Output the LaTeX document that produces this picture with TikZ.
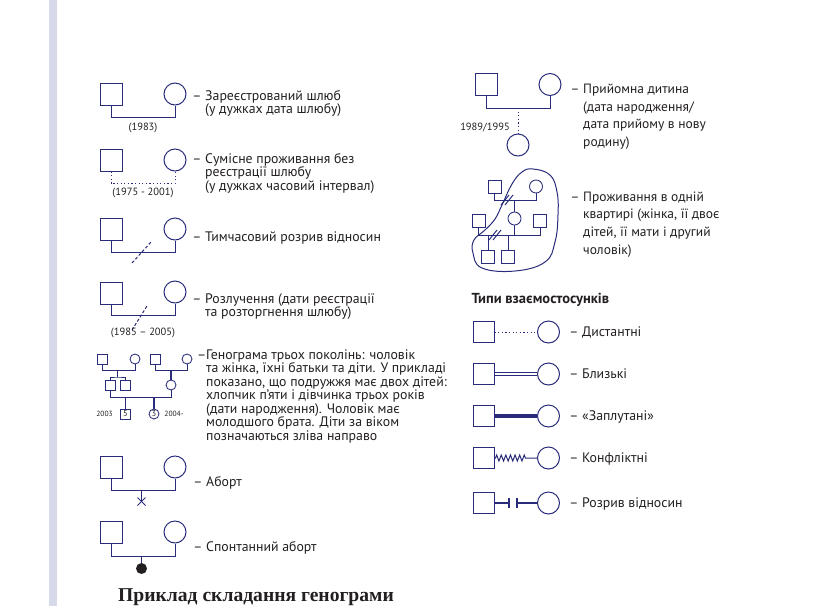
\documentclass[tikz,border=0pt]{standalone}
\usepackage{fontspec}
\setmainfont{PT Sans}
\newfontfamily\titlefont{Liberation Serif}
\usetikzlibrary{decorations.pathmorphing}
\definecolor{genblue}{RGB}{40,44,122}
\definecolor{gentext}{RGB}{35,31,32}
\definecolor{marginbar}{RGB}{214,217,233}
\tikzset{
  male/.style={draw=genblue, line width=1pt, minimum size=22pt, inner sep=0pt},
  female/.style={male, circle},
  smallmale/.style={male, minimum size=10pt, line width=0.85pt},
  smallfemale/.style={smallmale, circle},
  midmale/.style={male, minimum size=13pt, line width=0.85pt},
  midfemale/.style={midmale, circle},
  rel/.style={genblue, line width=1pt},
  thickrel/.style={genblue, line width=1.8pt},
  % base of a multi-line node = baseline of its last line
  desc/.style={anchor=base west, align=left, inner sep=0pt, text=gentext,
    font=\fontsize{13.8}{13.5}\selectfont},
  rdesc/.style={desc, font=\fontsize{13.5}{17.7}\selectfont},
  yr/.style={inner sep=0pt, text=gentext, font=\fontsize{10.5}{11}\selectfont},
  tinyyr/.style={inner sep=0pt, text=gentext, font=\fontsize{7.5}{8}\selectfont}
}
\begin{document}
\begin{tikzpicture}[x=1pt, y=-1pt]
  \useasboundingbox (0,0) rectangle (825,606);
  \fill[marginbar] (49,0) rectangle (57,606);

  % Registered marriage
  \node[male] (reg-m) at (111,94) {};
  \node[female] (reg-f) at (175,94) {};
  \draw[rel] (reg-m.south) -- ++(0,12) -| (reg-f.south);
  \node[yr] (reg-y) at (143,128) {(1983)};
  \node[desc] (reg-t) at (205,113.5) {\llap{– }Зареєстрований шлюб\\(у дужках дата шлюбу)};

  % Living together
  \node[male] (coh-m) at (111,160) {};
  \node[female] (coh-f) at (175,160) {};
  \draw[rel, dash pattern=on 1.2pt off 2.4pt] (coh-m.south) -- ++(0,12) -| (coh-f.south);
  \node[yr] (coh-y) at (143,193) {(1975 - 2001)};
  \node[desc] (coh-t) at (205,190.3) {\llap{– }Сумісне проживання без\\реєстрації шлюбу\\(у дужках часовий інтервал)};

  % Separation
  \node[male] (sep-m) at (111,229) {};
  \node[female] (sep-f) at (175,229) {};
  \draw[rel] (sep-m.south) -- ++(0,12) -| (sep-f.south);
  \coordinate (sep-a) at (132,263);
  \coordinate (sep-b) at (151,242);
  \draw[rel, dash pattern=on 3pt off 2pt] (sep-a) -- (sep-b);
  \node[desc] (sep-t) at (205,241.7) {\llap{– }Тимчасовий розрив відносин};

  % Divorce
  \node[male] (div-m) at (111,293) {};
  \node[female] (div-f) at (175,292) {};
  \draw[rel] (div-m.south) -- ++(0,11) -| (div-f.south);
  \coordinate (div-a) at (132,330);
  \coordinate (div-b) at (147,306);
  \draw[rel, dash pattern=on 3pt off 2pt] (div-a) -- (div-b);
  \node[yr] (div-y) at (143,333) {(1985 – 2005)};
  \node[desc] (div-t) at (205,316.8) {\llap{– }Розлучення (дати реєстрації\\та розторгнення шлюбу)};

  % Three generations
  \node[smallmale] (g-a) at (102,359) {};
  \node[smallfemale] (g-b) at (135,359) {};
  \node[smallmale] (g-c) at (155,359) {};
  \node[smallfemale] (g-d) at (187,359) {};
  \draw[rel] (g-a.south) -- ++(0,6) -| (g-b.south);
  \draw[rel] (g-c.south) -- ++(0,6) -| (g-d.south);
  \node[smallmale] (g-e) at (110,385) {};
  \node[smallmale] (g-f) at (125,385) {};
  \node[smallfemale] (g-g) at (171,385) {};
  \coordinate (g-ab) at (117.5,370);
  \coordinate (g-sib) at (117.5,377);
  \draw[thickrel] (g-ab) -- (g-sib);
  \draw[rel] (g-e.north) |- (g-sib) -| (g-f.north);
  \coordinate (g-cd) at (171,370);
  \draw[thickrel] (g-cd) -- (g-g.north);
  \draw[rel] (g-e.south) -- ++(0,7) -| (g-g.south);
  \node[smallmale, text=gentext, font=\fontsize{8.5}{8.5}\selectfont] (g-son) at (125.5,414) {5};
  \node[smallfemale, text=gentext, font=\fontsize{8.5}{8.5}\selectfont] (g-dau) at (154,414) {3};
  \coordinate (g-son-up) at (125.5,397);
  \coordinate (g-dau-up) at (154,397);
  \draw[thickrel] (g-son-up) -- (g-son.north);
  \draw[thickrel] (g-dau-up) -- (g-dau.north);
  \node[tinyyr] (g-y1) at (104.5,414) {2003};
  \node[tinyyr] (g-y2) at (174,414) {2004-};
  \node[desc] (g-t) at (206,440) {\llap{–}Генограма трьох поколінь: чоловік\\та жінка, їхні батьки та діти. У прикладі\\показано, що подружжя має двох дітей:\\хлопчик п’яти і дівчинка трьох років\\(дати народження). Чоловік має\\молодшого брата. Діти за віком\\позначаються зліва направо};

  % Abortion
  \node[male] (ab-m) at (111.5,467) {};
  \node[female] (ab-f) at (175,467) {};
  \draw[rel] (ab-m.south) -- ++(0,12) -| (ab-f.south);
  \coordinate (ab-top) at (141.5,490);
  \coordinate (ab-x) at (141.5,501.5);
  \draw[rel] (ab-top) -- (ab-x);
  \draw[rel] ([shift={(-4,-4)}]ab-x) -- ([shift={(4,4)}]ab-x);
  \draw[rel] ([shift={(-4,4)}]ab-x) -- ([shift={(4,-4)}]ab-x);
  \node[desc] (ab-t) at (206,486.7) {\llap{– }Аборт};

  % Spontaneous abortion
  \node[male] (sp-m) at (111.5,532) {};
  \node[female] (sp-f) at (175,532) {};
  \draw[rel] (sp-m.south) -- ++(0,13) -| (sp-f.south);
  \node[circle, fill=gentext, minimum size=11pt, inner sep=0pt] (sp-d) at (141.5,568.5) {};
  \coordinate (sp-top) at (141.5,556);
  \draw[rel] (sp-top) -- (sp-d);
  \node[desc] (sp-t) at (206,551.7) {\llap{– }Спонтанний аборт};

  % Title
  \node[anchor=base west, inner sep=0pt, text=gentext, font=\titlefont\bfseries\fontsize{19.6}{20}\selectfont] (title) at (118,601) {Приклад складання генограми};

  % Adopted child
  \node[male] (ad-m) at (486,84) {};
  \node[female] (ad-f) at (550,84.5) {};
  \draw[rel] (ad-m.south) -- ++(0,13) -| (ad-f.south);
  \node[female] (ad-c) at (518,145) {};
  \coordinate (ad-up) at (518,108);
  \draw[rel, dash pattern=on 1.2pt off 2.4pt] (ad-up) -- (ad-c.north);
  \node[yr] (ad-y) at (485,127) {1989/1995};
  \node[rdesc] (ad-t) at (583,146.4) {\llap{– }Прийомна дитина\\(дата народження/\\дата прийому в нову\\родину)};

  % Living in one flat
  \draw[rel] plot[smooth cycle, tension=0.7] coordinates {(533,169) (550,175) (557,192) (558,215) (555,242) (545,262) (515,271) (482,268) (473,253) (474,240) (485,230) (495,219) (502,205) (512,184) (522,172)};
  \node[midmale] (lt-gm) at (494.5,186.5) {};
  \node[midfemale] (lt-gf) at (536,186.5) {};
  \draw[rel] (lt-gm.south) -- ++(0,7) -| (lt-gf.south);
  \draw[rel] (501,205) -- (509,195);
  \draw[rel] (505,205) -- (513,195);
  \node[midfemale] (lt-w) at (514.5,218.5) {};
  \coordinate (lt-up) at (514.5,200);
  \draw[rel] (lt-up) -- (lt-w.north);
  \node[midmale] (lt-h1) at (478.5,221) {};
  \node[midmale] (lt-h2) at (540,221) {};
  \draw[rel] (lt-h1.south) -- ++(0,7.5) -| (lt-h2.south);
  \coordinate (lt-low) at (514.5,235);
  \draw[thickrel, line width=1.3pt] (lt-w.south) -- (lt-low);
  \draw[rel] (489,240) -- (497,230);
  \draw[rel] (493,240) -- (501,230);
  \node[midmale] (lt-c1) at (488,256.5) {};
  \node[midmale] (lt-c2) at (508,256.5) {};
  \coordinate (lt-c1-up) at (488,235);
  \coordinate (lt-c2-up) at (508,235);
  \draw[rel] (lt-c1-up) -- (lt-c1.north);
  \draw[rel] (lt-c2-up) -- (lt-c2.north);
  \node[rdesc] (lt-t) at (583,254.1) {\llap{– }Проживання в одній\\квартирі (жінка, її двоє\\дітей, її мати і другий\\чоловік)};

  % Relationship types
  \node[anchor=base west, inner sep=0pt, text=gentext, font=\bfseries\fontsize{14.5}{15}\selectfont] (types) at (471.5,303.3) {Типи взаємостосунків};
  \foreach \i/\y/\lab in {1/332/Дистантні, 2/374/Близькі, 3/416/«Заплутані», 4/458/Конфліктні, 5/503/Розрив відносин} {
    \node[male, minimum size=21pt] (rm\i) at (483.5,\y) {};
    \node[female] (rf\i) at (548.5,\y) {};
    \node[desc] (rt\i) at (582,\y+4.5) {\llap{– }\lab};
  }
  \draw[rel, dash pattern=on 1.2pt off 2.4pt] (rm1.east) -- (rf1.west);
  \draw[rel, line width=0.8pt, double=white, double distance=1.8pt] (rm2.east) -- (rf2.west);
  \draw[genblue, line width=4pt] (rm3.east) -- (rf3.west);
  \draw[rel, decorate, decoration={zigzag, segment length=4.6pt, amplitude=3pt, pre length=1pt, post length=11pt}] (rm4.east) -- (rf4.west);
  \coordinate (brk-a) at (509,503);
  \coordinate (brk-b) at (517,503);
  \draw[rel, line width=1.5pt] (rm5.east) -- (brk-a);
  \draw[rel, line width=1.5pt] (brk-b) -- (rf5.west);
  \draw[genblue, line width=2.5pt] ([yshift=-5pt]brk-a) -- ([yshift=5pt]brk-a);
  \draw[genblue, line width=2.5pt] ([yshift=-5pt]brk-b) -- ([yshift=5pt]brk-b);
\end{tikzpicture}
\end{document}
